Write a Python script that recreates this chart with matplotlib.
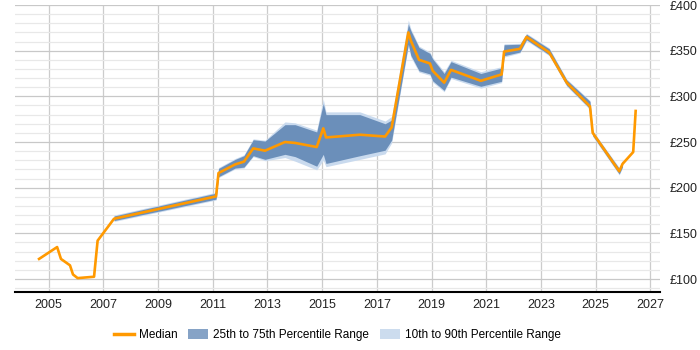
import matplotlib.pyplot as plt
from matplotlib.patches import Patch
from matplotlib.lines import Line2D

plt.rcParams["font.family"] = ["Liberation Sans", "DejaVu Sans"]

# median salary over time (decimal years)
median_years = [2004.65, 2005.31, 2005.45, 2005.78, 2005.89, 2006.06, 2006.66, 2006.79,
                2007.39, 2011.12, 2011.21, 2011.82, 2012.14, 2012.48, 2012.91, 2013.64,
                2014.01, 2014.80, 2015.04, 2015.14, 2016.38, 2017.30, 2017.54, 2018.15,
                2018.24, 2018.54, 2018.94, 2019.04, 2019.46, 2019.71, 2020.80, 2021.56,
                2021.65, 2022.23, 2022.47, 2023.30, 2023.94, 2024.79, 2024.89, 2025.86,
                2025.98, 2026.37, 2026.46]
median = [122, 135, 122, 115, 105, 101, 102.5, 142,
          166, 190.5, 216, 225.5, 228.5, 243, 240.5, 250,
          249, 244.5, 265, 255, 258, 256, 266, 370,
          361, 340, 336, 328, 315, 329, 317, 324,
          349, 352, 365, 348, 315, 289, 260, 218,
          226, 239, 284]

# percentile bands
band_years = [2007.39, 2011.12, 2011.21, 2011.82, 2012.14, 2012.48, 2012.91, 2013.64,
              2014.01, 2014.80, 2015.04, 2015.14, 2016.38, 2017.30, 2017.54, 2018.15,
              2018.24, 2018.54, 2018.94, 2019.04, 2019.46, 2019.71, 2020.80, 2021.56,
              2021.65, 2022.23, 2022.47, 2023.30, 2023.94, 2024.79, 2024.89, 2025.86,
              2025.98]
p25 = [164, 187.5, 212, 221.5, 222.5, 235, 231, 236.5,
       234, 223.5, 236.5, 226.5, 235, 241, 252, 357,
       345, 328, 324.5, 317, 306.5, 321, 311, 316.5,
       344.5, 348.5, 362, 345.5, 312, 286.5, 257, 215,
       223]
p75 = [169, 194, 221, 231, 235, 252.5, 251, 269,
       269, 261, 292, 280, 280, 270, 274, 379,
       372, 353.5, 347, 341, 325, 338, 325, 331,
       356.5, 357, 368, 352, 318, 294.5, 261.5, 221,
       229]
p10 = [163, 186.5, 211, 220.5, 221.5, 234, 229.5, 233,
       229, 219.5, 230, 223, 231, 237, 249, 355,
       343, 326.5, 323, 315.5, 305, 319.5, 309, 315,
       343, 347.5, 361, 344.5, 311, 285.5, 256, 214,
       222]
p90 = [170, 195, 222, 232, 236, 253.5, 252, 272,
       271, 263, 297, 283, 283, 273, 278, 383.5,
       374, 355, 348.5, 342.5, 327, 339.5, 327, 332.5,
       357.5, 358, 369, 353, 319, 295.5, 262.5, 222,
       230]

year_ticks = list(range(2005, 2028, 2))
value_ticks = [100, 150, 200, 250, 300, 350, 400]

ORANGE = "#FF9900"
DARK_BAND = "#6B8FBA"
LIGHT_BAND = "#C9DAEE"

fig = plt.figure(figsize=(7, 3.5), dpi=100)
ax = fig.add_axes([15 / 700, 1 - 292 / 350, 645 / 700, 287 / 350])

ax.fill_between(band_years, p10, p90, color=LIGHT_BAND, lw=0, zorder=2)
ax.fill_between(band_years, p25, p75, color=DARK_BAND, lw=0, zorder=3)
ax.plot(median_years, median, color=ORANGE, lw=1.9, zorder=4)

ax.set_xlim(2003.77, 2027.35)
ax.set_ylim(85.8, 400)

ax.set_xticks(year_ticks)
ax.set_xticklabels([str(y) for y in year_ticks])
ax.set_yticks(value_ticks)
ax.set_yticklabels([f"£{v}" for v in value_ticks])
ax.set_yticks(range(90, 400, 10), minor=True)

ax.yaxis.tick_right()
ax.tick_params(axis="y", which="both", length=0, pad=7, labelsize=9, colors="#222222")
ax.tick_params(axis="x", length=0, pad=5, labelsize=9, colors="#222222")

ax.grid(True, axis="x", color="#cccccc", lw=0.9, zorder=0)
ax.grid(True, axis="y", which="major", color="#c8c8c8", lw=0.9, zorder=0)
ax.grid(True, axis="y", which="minor", color="#e8e8e8", lw=0.9, zorder=0)
ax.set_axisbelow(True)

for side in ["left", "right", "top"]:
    ax.spines[side].set_visible(False)
ax.spines["bottom"].set_color("black")
ax.spines["bottom"].set_linewidth(1.5)

handles = [
    Line2D([0], [0], color=ORANGE, lw=2.5),
    Patch(facecolor="#86A3C6", edgecolor="none"),
    Patch(facecolor="#CCDCEE", edgecolor="none"),
]
labels = ["Median", "25th to 75th Percentile Range", "10th to 90th Percentile Range"]
fig.legend(handles, labels, loc="center", bbox_to_anchor=(337.5 / 700, 1 - 335 / 350),
           ncol=3, frameon=False, fontsize=8.5, handlelength=1.7, handleheight=1.0,
           handletextpad=0.42, columnspacing=0.93, borderpad=0, borderaxespad=0)

fig.savefig("out.png", dpi=100)
